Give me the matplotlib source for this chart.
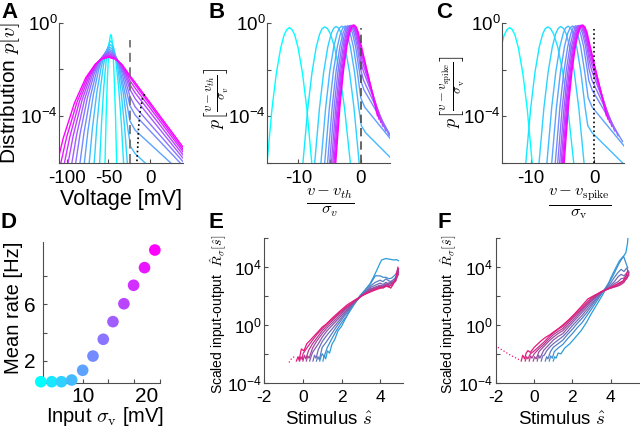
import numpy as np
import matplotlib.pyplot as plt

plt.rcParams['font.family'] = 'Liberation Sans'
plt.rcParams['mathtext.fontset'] = 'custom'
plt.rcParams['mathtext.rm'] = 'Liberation Sans'
plt.rcParams['mathtext.it'] = 'Liberation Sans:italic'
plt.rcParams['mathtext.bf'] = 'Liberation Sans:bold'
plt.rcParams['axes.unicode_minus'] = False


# INPUT NOISE LEVELS (mV) AND THRESHOLDS
sigma_v = [2, 4, 6, 8, 10, 12, 14, 16, 18, 20, 22, 24]
v_th = -24.3
v_spike = [-20.4, -18.1, -16.3, -15.6, -15.0, -14.4, -13.5, -12.3, -11.0, -9.6, -8.2, -7.0]

# VOLTAGE DISTRIBUTIONS p[v]: voltage (mV) and log10 of density, one list per sigma
curve_v = [
    [-54.6, -52.8, -51.4, -50.0, -48.9, -48.0, -47.2, -46.4, -45.5, -44.4, -43.0, -41.6, -39.8],
    [-61.8, -58.3, -55.6, -52.9, -50.7, -49.1, -47.5, -45.6, -43.7, -41.1, -37.9, -34.7, -30.5],
    [-69.2, -64.0, -60.0, -56.0, -52.8, -50.4, -48.0, -45.4, -42.8, -39.4, -35.1, -30.8, -25.2],
    [-76.1, -69.3, -64.1, -58.9, -54.7, -51.6, -48.5, -45.3, -42.0, -37.7, -32.3, -26.9, -23.5, -18.0, 40.0],
    [-82.9, -74.6, -68.2, -61.8, -56.7, -52.8, -49.0, -45.2, -41.3, -36.2, -29.8, -24.3, -18.0, 40.0],
    [-89.1, -79.3, -71.8, -64.3, -58.3, -53.8, -49.3, -44.8, -40.3, -34.3, -26.8, -24.3, -18.0, 40.0],
    [-95.2, -84.0, -75.4, -66.8, -59.9, -54.8, -49.6, -44.4, -39.3, -32.4, -24.3, -18.0, 40.0],
    [-100.7, -88.2, -78.6, -69.0, -61.3, -55.6, -49.8, -44.0, -38.3, -30.6, -24.3, -18.0, 40.0],
    [-106.2, -92.4, -81.8, -71.2, -62.7, -56.4, -50.0, -43.6, -37.3, -28.8, -24.3, -18.0, 40.0],
    [-111.5, -96.4, -84.8, -73.2, -63.9, -57.0, -50.0, -43.0, -36.1, -26.8, -24.3, -18.0, 40.0],
    [-116.8, -100.4, -87.8, -75.2, -65.1, -57.6, -50.0, -42.4, -34.9, -24.5, -18.0, 40.0],
    [-122.1, -104.4, -90.8, -77.2, -66.3, -58.2, -50.0, -41.8, -33.7, -24.3, -18.0, 40.0],
]
curve_logp = [
    [-6.61, -3.98, -2.46, -1.38, -0.82, -0.59, -0.51, -0.59, -0.82, -1.38, -2.46, -3.98, -6.61],
    [-6.88, -4.25, -2.73, -1.65, -1.09, -0.86, -0.78, -0.86, -1.09, -1.65, -2.73, -4.25, -6.88],
    [-7.04, -4.41, -2.89, -1.81, -1.25, -1.02, -0.94, -1.02, -1.25, -1.81, -2.89, -4.41, -7.04],
    [-7.15, -4.52, -3.0, -1.92, -1.36, -1.13, -1.05, -1.13, -1.36, -1.92, -3.0, -4.52, -5.3, -5.6, -7.53],
    [-7.24, -4.61, -3.09, -2.01, -1.45, -1.22, -1.14, -1.22, -1.45, -2.01, -3.09, -4.2, -4.6, -6.5],
    [-7.31, -4.68, -3.16, -2.08, -1.52, -1.29, -1.21, -1.29, -1.52, -2.08, -3.16, -3.55, -3.95, -6.15],
    [-7.37, -4.74, -3.22, -2.14, -1.58, -1.35, -1.27, -1.35, -1.58, -2.14, -3.15, -3.6, -5.97],
    [-7.42, -4.79, -3.27, -2.19, -1.63, -1.40, -1.32, -1.40, -1.63, -2.19, -2.85, -3.25, -5.82],
    [-7.47, -4.84, -3.32, -2.24, -1.68, -1.45, -1.37, -1.45, -1.68, -2.24, -2.65, -3.0, -5.68],
    [-7.51, -4.88, -3.36, -2.28, -1.72, -1.49, -1.41, -1.49, -1.72, -2.28, -2.48, -2.8, -5.55],
    [-7.55, -4.92, -3.40, -2.32, -1.76, -1.53, -1.45, -1.53, -1.76, -2.33, -2.65, -5.45],
    [-7.58, -4.95, -3.43, -2.35, -1.79, -1.56, -1.48, -1.56, -1.79, -2.26, -2.56, -5.35],
]

# SPIKE VOLTAGE LOCUS IN A (dotted)
spike_locus_v = [-16.2, -16.0, -14.8, -14.0, -12.0, -9.2, -6.0]
spike_locus_logp = [-6.3, -6.0, -5.23, -4.51, -3.8, -3.23, -3.01]

# MEAN RATE vs INPUT SIGMA (D)
rate_sigma = [3.5, 5.2, 6.7, 8.3, 10.0, 11.6, 13.2, 14.7, 16.4, 17.9, 19.6, 21.2]
rate_hz = [0.51, 0.51, 0.51, 0.63, 1.32, 2.33, 3.52, 4.77, 6.04, 7.35, 8.6, 9.85]

# SCALED INPUT-OUTPUT CURVES (E): stimulus and log10 of response
e_s = [
    [1.04, 1.1, 1.18, 1.27, 1.38, 1.5, 1.65, 1.82, 2.0, 2.15, 2.34, 2.6, 2.95, 3.2, 3.47, 3.65, 3.82, 4.0, 4.08, 4.3, 4.5, 4.7, 4.85, 4.95],
    [0.87, 0.95, 1.0, 1.1, 1.25, 1.5, 1.75, 2.0, 2.25, 2.5, 2.75, 3.0, 3.25, 3.5, 3.75, 4.0, 4.15, 4.3, 4.45, 4.6, 4.8, 4.95],
    [0.70, 0.78, 0.85, 1.0, 1.2, 1.5, 1.75, 2.0, 2.25, 2.5, 2.75, 3.0, 3.25, 3.5, 3.75, 4.0, 4.15, 4.3, 4.45, 4.6, 4.8, 4.95],
    [0.52, 0.6, 0.68, 0.8, 1.0, 1.25, 1.5, 1.75, 2.0, 2.25, 2.5, 2.75, 3.0, 3.25, 3.5, 3.75, 4.0, 4.15, 4.3, 4.45, 4.6, 4.8, 4.95],
    [0.35, 0.42, 0.5, 0.65, 0.8, 1.0, 1.25, 1.5, 1.75, 2.0, 2.25, 2.5, 2.75, 3.0, 3.25, 3.5, 3.75, 4.0, 4.15, 4.3, 4.45, 4.6, 4.8, 4.95],
    [0.18, 0.25, 0.32, 0.5, 0.7, 1.0, 1.25, 1.5, 1.75, 2.0, 2.25, 2.5, 2.75, 3.0, 3.25, 3.5, 3.75, 4.0, 4.15, 4.3, 4.45, 4.6, 4.8, 4.95],
    [0.0, 0.08, 0.15, 0.3, 0.5, 0.75, 1.0, 1.25, 1.5, 1.75, 2.0, 2.25, 2.5, 2.75, 3.0, 3.25, 3.5, 3.75, 4.0, 4.15, 4.3, 4.45, 4.6, 4.8, 4.95],
    [-0.17, -0.1, -0.03, 0.0, 0.2, 0.5, 0.75, 1.0, 1.25, 1.5, 1.75, 2.0, 2.25, 2.5, 2.75, 3.0, 3.25, 3.5, 3.75, 4.0, 4.15, 4.3, 4.45, 4.6, 4.8, 4.95],
    [-0.34, -0.25, -0.2, -0.08, 0.05, 0.2, 0.35, 0.52, 0.8, 1.0, 1.22, 1.5, 1.91, 2.3, 2.78, 3.1, 3.47, 3.8, 4.17, 4.4, 4.55, 4.69, 4.8, 4.92],
]
e_logr = [
    [-2.5, -2.1, -2.35, -1.8, -1.95, -1.35, -1.0, -0.4, -0.1, 0.3, 0.76, 1.3, 2.03, 2.4, 2.84, 3.3, 3.77, 4.3, 4.5, 4.6, 4.55, 4.5, 4.52, 4.45],
    [-2.5, -2.15, -2.0, -2.2, -1.6, -0.95, -0.35, 0.15, 0.6, 1.2, 1.6, 2.05, 2.45, 2.85, 3.4, 3.4, 3.3, 3.3, 3.2, 3.25, 3.5, 3.9],
    [-2.5, -2.2, -2.4, -1.55, -1.2, -0.6, -0.1, 0.35, 0.8, 1.25, 1.65, 2.0, 2.35, 2.7, 2.95, 3.1, 3.0, 3.2, 3.05, 3.0, 3.3, 3.6],
    [-2.5, -2.1, -2.3, -1.7, -1.15, -0.7, -0.3, 0.1, 0.5, 0.9, 1.3, 1.65, 1.98, 2.3, 2.6, 2.75, 2.9, 2.8, 2.95, 2.85, 3.05, 3.2, 3.7],
    [-2.5, -2.2, -1.9, -1.6, -1.3, -0.85, -0.4, -0.05, 0.3, 0.65, 1.0, 1.35, 1.7, 1.98, 2.25, 2.5, 2.62, 2.75, 2.7, 2.85, 2.8, 2.9, 3.1, 3.5],
    [-2.5, -2.15, -2.3, -1.6, -1.15, -0.6, -0.2, 0.12, 0.45, 0.78, 1.1, 1.4, 1.7, 1.98, 2.22, 2.45, 2.58, 2.7, 2.65, 2.75, 2.9, 2.95, 3.0, 3.8],
    [-2.5, -2.1, -2.35, -1.75, -1.3, -0.85, -0.4, -0.05, 0.27, 0.6, 0.88, 1.18, 1.45, 1.72, 1.98, 2.2, 2.4, 2.52, 2.65, 2.6, 2.8, 2.7, 2.75, 3.1, 3.6],
    [-2.5, -2.2, -2.4, -2.0, -1.6, -1.05, -0.62, -0.25, 0.1, 0.37, 0.68, 0.97, 1.25, 1.48, 1.75, 1.98, 2.18, 2.35, 2.48, 2.6, 2.55, 2.7, 2.62, 2.85, 3.05, 3.9],
    [-2.5, -2.2, -2.45, -1.66, -1.8, -1.3, -1.1, -0.85, -0.45, -0.15, 0.07, 0.45, 0.95, 1.4, 1.8, 2.05, 2.27, 2.45, 2.61, 2.7, 2.55, 2.84, 3.2, 4.0],
]
e_tail_s = [-0.72, -0.6, -0.45]
e_tail_logr = [-2.6, -2.35, -2.2]

# SCALED INPUT-OUTPUT CURVES (F)
f_s = [
    [1.0, 1.07, 1.15, 1.25, 1.4, 1.6, 1.85, 2.1, 2.46, 2.75, 2.98, 3.25, 3.51, 3.8, 4.03, 4.25, 4.47, 4.6, 4.7, 4.8, 4.88, 4.95],
    [0.79, 0.86, 0.95, 1.05, 1.25, 1.5, 1.75, 2.0, 2.25, 2.5, 2.75, 3.0, 3.25, 3.5, 3.75, 4.0, 4.2, 4.4, 4.55, 4.68, 4.8, 4.9],
    [0.58, 0.65, 0.72, 0.85, 1.0, 1.25, 1.5, 1.75, 2.0, 2.25, 2.5, 2.75, 3.0, 3.25, 3.5, 3.75, 4.0, 4.2, 4.4, 4.55, 4.7, 4.85, 4.95],
    [0.37, 0.44, 0.52, 0.65, 0.8, 1.0, 1.25, 1.5, 1.75, 2.0, 2.25, 2.5, 2.75, 3.0, 3.25, 3.5, 3.75, 4.0, 4.2, 4.4, 4.55, 4.7, 4.85, 4.95],
    [0.16, 0.23, 0.3, 0.5, 0.75, 1.0, 1.25, 1.5, 1.75, 2.0, 2.25, 2.5, 2.75, 3.0, 3.25, 3.5, 3.75, 4.0, 4.2, 4.4, 4.55, 4.7, 4.85, 4.95],
    [-0.05, 0.02, 0.1, 0.25, 0.5, 0.75, 1.0, 1.25, 1.5, 1.75, 2.0, 2.25, 2.5, 2.75, 3.0, 3.25, 3.5, 3.75, 4.0, 4.2, 4.4, 4.55, 4.7, 4.85, 4.95],
    [-0.26, -0.19, -0.12, 0.0, 0.25, 0.5, 0.75, 1.0, 1.25, 1.5, 1.75, 2.0, 2.25, 2.5, 2.75, 3.0, 3.25, 3.5, 3.75, 4.0, 4.2, 4.4, 4.55, 4.7, 4.85, 4.95],
    [-0.47, -0.4, -0.33, -0.2, 0.0, 0.25, 0.5, 0.75, 1.0, 1.25, 1.5, 1.75, 2.0, 2.25, 2.5, 2.75, 3.0, 3.25, 3.5, 3.75, 4.0, 4.2, 4.4, 4.55, 4.7, 4.85, 4.95],
    [-0.68, -0.6, -0.5, -0.42, -0.33, -0.2, 0.0, 0.2, 0.37, 0.6, 0.8, 1.0, 1.24, 1.5, 1.8, 2.11, 2.45, 2.81, 3.15, 3.51, 3.85, 4.2, 4.45, 4.65, 4.81, 4.9],
]
f_logr = [
    [-2.5, -2.2, -2.3, -1.95, -2.0, -1.6, -1.32, -0.95, -0.39, 0.2, 0.76, 1.35, 1.92, 2.6, 3.31, 3.9, 4.46, 4.65, 4.8, 5.0, 5.6, 6.6],
    [-2.5, -2.15, -2.3, -1.85, -1.6, -1.35, -0.95, -0.6, -0.2, 0.15, 0.62, 1.1, 1.6, 2.1, 2.6, 3.1, 3.6, 4.15, 4.5, 4.75, 4.3, 3.95],
    [-2.5, -2.2, -2.35, -1.85, -1.55, -1.3, -1.05, -0.65, -0.3, 0.1, 0.45, 0.85, 1.3, 1.75, 2.15, 2.55, 2.9, 3.3, 3.65, 3.85, 3.7, 3.95, 3.6],
    [-2.5, -2.15, -2.1, -1.8, -1.55, -1.3, -1.05, -0.8, -0.45, -0.05, 0.3, 0.65, 1.05, 1.45, 1.85, 2.2, 2.5, 2.75, 3.0, 3.35, 3.5, 3.4, 3.6, 3.7],
    [-2.5, -2.1, -2.3, -1.75, -1.4, -1.05, -0.8, -0.6, -0.22, 0.15, 0.5, 0.85, 1.22, 1.6, 1.95, 2.25, 2.45, 2.65, 2.85, 3.0, 3.2, 3.25, 3.45, 3.4],
    [-2.5, -2.2, -2.35, -1.85, -1.5, -1.15, -0.85, -0.6, -0.4, -0.05, 0.3, 0.65, 1.0, 1.35, 1.7, 2.0, 2.25, 2.42, 2.6, 2.7, 2.85, 2.95, 3.05, 3.3, 3.6],
    [-2.5, -2.15, -2.3, -2.0, -1.65, -1.35, -1.0, -0.68, -0.45, -0.25, 0.1, 0.45, 0.78, 1.1, 1.45, 1.8, 2.05, 2.3, 2.45, 2.55, 2.65, 2.75, 2.9, 3.05, 3.2, 3.5],
    [-2.5, -2.2, -2.35, -2.0, -1.8, -1.5, -1.2, -0.85, -0.55, -0.3, -0.1, 0.22, 0.55, 0.88, 1.2, 1.55, 1.88, 2.1, 2.3, 2.42, 2.55, 2.62, 2.7, 2.8, 2.95, 3.3, 3.6],
    [-2.5, -2.1, -2.35, -1.95, -1.78, -1.9, -1.55, -1.3, -1.09, -0.85, -0.7, -0.5, -0.28, 0.0, 0.35, 0.76, 1.25, 1.8, 2.05, 2.27, 2.5, 2.73, 2.9, 3.05, 3.42, 3.77],
]
f_tail_s = [-1.9, -1.6, -1.3, -1.03, -0.8]
f_tail_logr = [-1.55, -1.8, -2.05, -2.24, -2.4]


# FIGURE
fig = plt.figure(figsize=(6.4, 4.28), dpi=100)


def make_axes(left, right, top, bottom):
    return fig.add_axes([left / 640, 1 - bottom / 428,
                         (right - left) / 640, (bottom - top) / 428])


def style(ax, size):
    for s in ['top', 'right']:
        ax.spines[s].set_visible(False)
    for s in ['left', 'bottom']:
        ax.spines[s].set_color('0.3')
        ax.spines[s].set_linewidth(0.8)
    ax.tick_params(which='both', direction='in', length=3, width=0.8,
                   color='0.3', labelsize=size)
    ax.minorticks_off()


def labels(ax, xlab, ylab, xsize, ysize, xpos, ypos):
    ax.set_xlabel(xlab, fontsize=xsize, math_fontfamily='cm', ha='center', va='center')
    ax.set_ylabel(ylab, fontsize=ysize, math_fontfamily='cm', ha='center', va='center')
    ax.xaxis.set_label_coords(*xpos)
    ax.yaxis.set_label_coords(*ypos)


cool = plt.cm.cool(np.linspace(0, 1, len(sigma_v)))
blue = np.array([0.16, 0.62, 0.86])
pink = np.array([0.90, 0.10, 0.48])
n_io = len(e_s)
io_cols = [blue + (pink - blue) * i / (n_io - 1) for i in range(n_io)]

dist_ticks = [1e-6, 1e-4, 1e-2, 1]
dist_labels = ['', r'$\mathrm{10^{-4}}$', '', r'$\mathrm{10^{0}}$']

ax_a = make_axes(59.3, 182.7, 22.7, 163)
ax_b = make_axes(267.3, 390, 22.7, 163.3)
ax_c = make_axes(501.7, 624, 22.7, 163.3)
ax_d = make_axes(42.7, 160, 241.7, 382.7)
ax_e = make_axes(264.3, 403.3, 238.3, 382.7)
ax_f = make_axes(496, 640, 238.3, 382.7)

for k in range(len(sigma_v)):
    v = np.array(curve_v[k])
    p = 10 ** np.array(curve_logp[k])
    ax_a.plot(v, p, color=cool[k], lw=1)
    ax_b.plot((v - v_th) / sigma_v[k], p * sigma_v[k], color=cool[k], lw=1)
    ax_c.plot((v - v_spike[k]) / sigma_v[k], p * sigma_v[k], color=cool[k], lw=1)

# A
ax_a.set_yscale('log')
ax_a.axvline(v_th, ymax=0.877, color='0.45', lw=1.3, ls=(0, (5, 3)))
ax_a.plot(spike_locus_v, 10 ** np.array(spike_locus_logp), color='k', lw=1.2, ls=':')
ax_a.set_xlim(-109, 39)
ax_a.set_ylim(1e-6, 1)
ax_a.set_xticks([-100, -50, 0])
ax_a.set_yticks(dist_ticks, dist_labels)
style(ax_a, 13.5)
ax_a.tick_params(axis='x', pad=5)
ax_a.tick_params(axis='y', pad=1)
labels(ax_a, 'Voltage [mV]', 'Distribution $p[v]$', 15.5, 15,
       (0.5, -0.257), (-0.395, 0.499))

# B
ax_b.set_yscale('log')
ax_b.axvline(0, ymax=0.96, color='0.3', lw=1.2, ls=(0, (5, 3)))
ax_b.set_xlim(-15, 4.7)
ax_b.set_ylim(1e-6, 1)
ax_b.set_xticks([-10, -5, 0], ['-10', '', '0'])
ax_b.set_yticks(dist_ticks, dist_labels)
style(ax_b, 13.5)
ax_b.tick_params(axis='x', pad=5)
ax_b.tick_params(axis='y', pad=1)
labels(ax_b, r'$\frac{v-v_{th}}{\sigma_v}$', r'$p\left[\frac{v-v_{th}}{\sigma_v}\right]$',
       17, 13, (0.511, -0.28), (-0.415, 0.464))

# C
ax_c.set_yscale('log')
ax_c.axvline(0, ymax=0.953, color='k', lw=1.2, ls=':')
ax_c.set_xlim(-14.65, 4.76)
ax_c.set_ylim(1e-6, 1)
ax_c.set_xticks([-10, -5, 0], ['-10', '', '0'])
ax_c.set_yticks(dist_ticks, dist_labels)
style(ax_c, 13.5)
ax_c.tick_params(axis='x', pad=5)
ax_c.tick_params(axis='y', pad=1)
labels(ax_c, r'$\frac{v-v_{\mathrm{spike}}}{\sigma_{\mathrm{v}}}$',
       r'$p\left[\frac{v-v_{\mathrm{spike}}}{\sigma_{\mathrm{v}}}\right]$',
       17, 13, (0.64, -0.29), (-0.41, 0.507))

# D
ax_d.scatter(rate_sigma, rate_hz, s=70, c=cool, edgecolors='none', clip_on=False, zorder=3)
ax_d.set_xlim(3.8, 22)
ax_d.set_ylim(0.44, 10.44)
style(ax_d, 15)
ax_d.set_xticks([10, 14, 18, 22], ['10', '', '', ''])
ax_d.set_xticks([20], ['20'], minor=True)
ax_d.set_yticks([2, 4, 6, 8], ['2', '', '6', ''])
ax_d.tick_params(which='minor', length=0, labelsize=15)
ax_d.tick_params(axis='x', which='both', pad=3)
ax_d.tick_params(axis='y', pad=5)
labels(ax_d, r'Input $\sigma_{\mathrm{v}}$ [mV]', 'Mean rate [Hz]', 14.5, 14.5,
       (0.531, -0.243), (-0.253, 0.53))

# E and F
io_ticks = [1e-4, 1e-2, 1, 1e2, 1e4, 1e6]
io_labels = [r'$\mathrm{10^{-4}}$', '', r'$\mathrm{10^{0}}$', '', r'$\mathrm{10^{4}}$', '']
for ax, ss, rr, ts, tr, xmax, xpos, ypos in [
        (ax_e, e_s, e_logr, e_tail_s, e_tail_logr, 5.2, (0.465, -0.258), (-0.33, 0.475)),
        (ax_f, f_s, f_logr, f_tail_s, f_tail_logr, 5.54, (0.458, -0.258), (-0.33, 0.475))]:
    ax.plot(ts, 10 ** np.array(tr), color=io_cols[-1], lw=0.9, ls=':')
    for i in range(len(ss)):
        ax.plot(ss[i], 10 ** np.array(rr[i]), color=io_cols[i], lw=0.9)
    ax.set_yscale('log')
    ax.set_xlim(-2, xmax)
    ax.set_ylim(1e-4, 1e6)
    ax.set_xticks([-2, 0, 2, 4])
    ax.set_yticks(io_ticks, io_labels)
    style(ax, 12.5)
    ax.tick_params(axis='x', pad=5)
    ax.tick_params(axis='y', pad=2)
    labels(ax, r'Stimulus $\hat{s}$', r'Scaled input-output  $\hat{R}_{\sigma}[\hat{s}]$',
           13.5, 10, xpos, ypos)

# PANEL LETTERS
for letter, x, y in [('A', 10, 12), ('B', 217, 12), ('C', 444, 12),
                     ('D', 9, 222), ('E', 216, 222), ('F', 444, 222)]:
    fig.text(x / 640, 1 - y / 428, letter, fontsize=16, fontweight='bold',
             ha='center', va='center')

fig.savefig('out.png', dpi=100)
